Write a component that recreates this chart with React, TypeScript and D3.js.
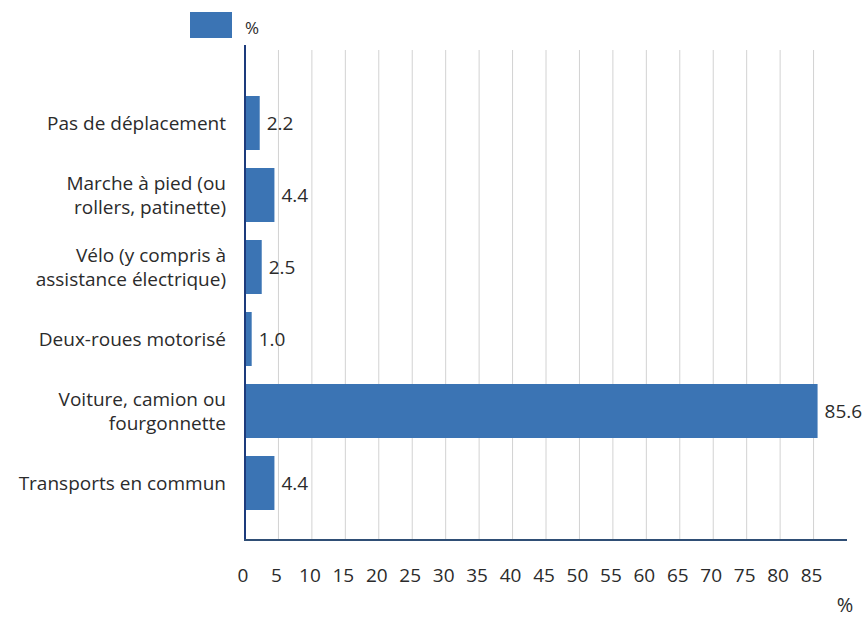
import * as d3 from 'd3';
import { useEffect, useRef } from 'react';

const categories = [
  ['Pas de déplacement'],
  ['Marche à pied (ou', 'rollers, patinette)'],
  ['Vélo (y compris à', 'assistance électrique)'],
  ['Deux-roues motorisé'],
  ['Voiture, camion ou', 'fourgonnette'],
  ['Transports en commun'],
];
const values = [2.2, 4.4, 2.5, 1.0, 85.6, 4.4];
const tickValues = [0, 5, 10, 15, 20, 25, 30, 35, 40, 45, 50, 55, 60, 65, 70, 75, 80, 85];

const barColor = '#3b74b4';
const axisColor = '#1d3b7c';
const textColor = '#2b2b2b';
const font = '"Open Sans", "Noto Sans", sans-serif';

export default function App() {
  const ref = useRef<SVGSVGElement | null>(null);

  useEffect(() => {
    if (!ref.current) return;
    const width = 867;
    const height = 620;
    const svg = d3.select(ref.current);
    svg.selectAll('*').remove();

    const x = d3.scaleLinear().domain([0, 90]).range([245, 847]);
    const y = d3
      .scaleBand<number>()
      .domain(d3.range(values.length))
      .range([87, 519])
      .paddingInner(0.25)
      .paddingOuter(0.125);

    // gridlines
    svg
      .append('g')
      .selectAll('line')
      .data(tickValues.slice(1))
      .join('line')
      .attr('x1', (d) => x(d))
      .attr('x2', (d) => x(d))
      .attr('y1', 50)
      .attr('y2', 540)
      .attr('stroke', '#d2d2d2')
      .attr('stroke-width', 1);

    // bars
    svg
      .append('g')
      .selectAll('rect')
      .data(values)
      .join('rect')
      .attr('x', x(0))
      .attr('y', (_, i) => y(i)!)
      .attr('width', (d) => x(d) - x(0))
      .attr('height', y.bandwidth())
      .attr('fill', barColor);

    // value labels
    svg
      .append('g')
      .selectAll('text')
      .data(values)
      .join('text')
      .attr('x', (d) => x(d) + 7)
      .attr('y', (_, i) => y(i)! + y.bandwidth() / 2)
      .attr('dy', '0.35em')
      .attr('font-family', font)
      .attr('font-size', 19)
      .attr('fill', textColor)
      .text((d) => d.toFixed(1));

    // category labels
    const cat = svg
      .append('g')
      .selectAll('text')
      .data(categories)
      .join('text')
      .attr('text-anchor', 'end')
      .attr('font-family', font)
      .attr('font-size', 19)
      .attr('fill', textColor)
      .attr('transform', (_, i) => `translate(226,${y(i)! + y.bandwidth() / 2})`);
    cat
      .selectAll('tspan')
      .data((d) => d.map((t, j) => ({ t, j, n: d.length })))
      .join('tspan')
      .attr('x', 0)
      .attr('y', (d) => (d.j - (d.n - 1) / 2) * 24)
      .attr('dy', '0.35em')
      .text((d) => d.t);

    // axes lines
    svg
      .append('line')
      .attr('x1', x(0))
      .attr('x2', x(0))
      .attr('y1', 45)
      .attr('y2', 540)
      .attr('stroke', axisColor)
      .attr('stroke-width', 2);
    svg
      .append('line')
      .attr('x1', x(0) - 1)
      .attr('x2', x(90))
      .attr('y1', 540)
      .attr('y2', 540)
      .attr('stroke', '#2f4e75')
      .attr('stroke-width', 2);

    // tick labels
    svg
      .append('g')
      .selectAll('text')
      .data(tickValues)
      .join('text')
      .attr('x', (d) => x(d) - 2)
      .attr('y', 575)
      .attr('dy', '0.35em')
      .attr('text-anchor', 'middle')
      .attr('font-family', font)
      .attr('font-size', 19)
      .attr('fill', textColor)
      .text((d) => d);

    svg
      .append('text')
      .attr('x', 845)
      .attr('y', 612)
      .attr('text-anchor', 'middle')
      .attr('font-family', font)
      .attr('font-size', 20)
      .attr('fill', textColor)
      .text('%');

    // legend
    svg
      .append('rect')
      .attr('x', 190)
      .attr('y', 12)
      .attr('width', 42)
      .attr('height', 26)
      .attr('fill', barColor);
    svg
      .append('text')
      .attr('x', 245)
      .attr('y', 28)
      .attr('dy', '0.35em')
      .attr('font-family', font)
      .attr('font-size', 17)
      .attr('fill', textColor)
      .text('%');

    svg.attr('width', width).attr('height', height);
  }, []);

  return (
    <div style={{ position: 'absolute', left: 0, top: 0, background: '#fff' }}>
      <svg ref={ref} style={{ display: 'block' }} />
    </div>
  );
}
